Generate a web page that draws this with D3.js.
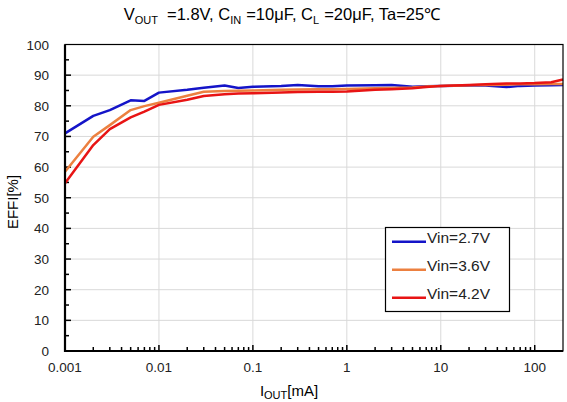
<!DOCTYPE html>
<html>
<head>
<meta charset="utf-8">
<script src="https://cdn.jsdelivr.net/npm/d3@7"></script>
<style>
  body { margin: 0; background: #fff; }
  text { font-family: "Liberation Sans", Arial, sans-serif; }
</style>
</head>
<body>
<div id="chart"></div>
<script>
// measured currents (mA) shared by all curves
var iout = [0.001, 0.002, 0.003, 0.005, 0.007, 0.01, 0.02, 0.03, 0.05, 0.07, 0.1, 0.2, 0.3, 0.5, 0.7,
  1, 2, 3, 5, 7, 10, 20, 30, 50, 70, 100, 150, 200];
var eff27 = [71.0, 76.7, 78.6, 81.8, 81.6, 84.3, 85.2, 85.9, 86.6, 85.8, 86.2, 86.5, 86.8, 86.4, 86.4,
  86.6, 86.7, 86.8, 86.2, 86.4, 86.5, 86.6, 86.6, 86.1, 86.5, 86.6, 86.7, 86.8];
var eff36 = [58.5, 69.9, 73.7, 78.6, 79.9, 81.0, 83.3, 84.6, 84.8, 84.9, 85.0, 85.2, 85.3, 85.4, 85.4,
  85.5, 85.7, 85.8, 86.0, 86.3, 86.5, 86.7, 86.8, 86.9, 87.0, 87.0, 87.1, 87.1];
var eff42 = [54.7, 67.2, 72.4, 76.2, 78.1, 80.3, 82.0, 83.2, 83.8, 84.0, 84.1, 84.3, 84.5, 84.6, 84.6,
  84.7, 85.2, 85.4, 85.7, 86.1, 86.5, 86.8, 87.0, 87.3, 87.3, 87.4, 87.7, 88.6];
var seriesNames = ["Vin=2.7V", "Vin=3.6V", "Vin=4.2V"];
var seriesColors = ["#1414c8", "#ec8040", "#e81414"];
var xTicks = [0.001, 0.01, 0.1, 1, 10, 100];
var xTickLabels = ["0.001", "0.01", "0.1", "1", "10", "100"];
var yTicks = [0, 10, 20, 30, 40, 50, 60, 70, 80, 90, 100];

var W = 567, H = 402;
var L = 65, R = 563, T = 44.5, B = 351;

var svg = d3.select("#chart").append("svg").attr("width", W).attr("height", H);

var x = d3.scaleLog().domain([0.001, 200]).range([L, R]);
var y = d3.scaleLinear().domain([0, 100]).range([B, T]);

// grid
svg.append("g").selectAll("line").data(yTicks.slice(1, -1)).join("line")
  .attr("x1", L).attr("x2", R).attr("y1", d => y(d)).attr("y2", d => y(d))
  .attr("stroke", "#d9d9d9").attr("stroke-width", 1);
svg.append("g").selectAll("line").data(xTicks.slice(1)).join("line")
  .attr("x1", d => x(d)).attr("x2", d => x(d)).attr("y1", T).attr("y2", B)
  .attr("stroke", "#d9d9d9").attr("stroke-width", 1);

// minor ticks
var minorX = [];
for (var p = -3; p <= 2; p++) {
  for (var m = 2; m <= 9; m++) {
    var v = m * Math.pow(10, p);
    if (v < 200) minorX.push(v);
  }
}
svg.append("g").selectAll("line").data(minorX).join("line")
  .attr("x1", d => x(d)).attr("x2", d => x(d)).attr("y1", B).attr("y2", B - 4)
  .attr("stroke", "#000").attr("stroke-width", 1.5);
svg.append("g").selectAll("line").data(xTicks.slice(1)).join("line")
  .attr("x1", d => x(d)).attr("x2", d => x(d)).attr("y1", B).attr("y2", B - 6)
  .attr("stroke", "#000").attr("stroke-width", 1.5);
svg.append("g").selectAll("line").data(d3.range(5, 100, 5)).join("line")
  .attr("x1", L).attr("x2", d => L + (d % 10 === 0 ? 6 : 4)).attr("y1", d => y(d)).attr("y2", d => y(d))
  .attr("stroke", "#000").attr("stroke-width", 1.5);

// curves
var line = d3.line().x((d, i) => x(iout[i])).y(d => y(d));
[eff27, eff36, eff42].forEach(function (s, k) {
  svg.append("path").datum(s).attr("d", line)
    .attr("fill", "none").attr("stroke", seriesColors[k]).attr("stroke-width", 2.5)
    .attr("stroke-linejoin", "round");
});

// frame
svg.append("rect").attr("x", L).attr("y", T).attr("width", R - L).attr("height", B - T)
  .attr("fill", "none").attr("stroke", "#000").attr("stroke-width", 1.2);
svg.append("path").attr("d", `M${L},${T}V${B}H${R}`)
  .attr("fill", "none").attr("stroke", "#000").attr("stroke-width", 2.2);

// tick labels
svg.append("g").selectAll("text").data(yTicks).join("text")
  .attr("x", 49).attr("y", d => y(d) + 5).attr("text-anchor", "end")
  .attr("font-size", 13.5).attr("fill", "#222").text(d => d);
svg.append("g").selectAll("text").data(xTicks).join("text")
  .attr("x", d => x(d)).attr("y", 372).attr("text-anchor", "middle")
  .attr("font-size", 13.5).attr("fill", "#222").text((d, i) => xTickLabels[i]);

// axis titles
svg.append("text").attr("transform", "translate(18,202) rotate(-90)")
  .attr("text-anchor", "middle").attr("font-size", 15).text("EFFI[%]");
var xt = svg.append("text").attr("x", 289).attr("y", 396).attr("text-anchor", "middle").attr("font-size", 15);
xt.append("tspan").text("I");
xt.append("tspan").attr("font-size", 11).attr("dy", 3).text("OUT");
xt.append("tspan").attr("dy", -3).text("[mA]");

// title
var tt = svg.append("text").attr("x", 282).attr("y", 20).attr("text-anchor", "middle").attr("font-size", 16.5);
tt.append("tspan").text("V");
tt.append("tspan").attr("font-size", 11).attr("dy", 4).text("OUT");
tt.append("tspan").attr("dy", -4).attr("dx", 9).text("=1.8V, C");
tt.append("tspan").attr("font-size", 11).attr("dy", 4).text("IN");
tt.append("tspan").attr("dy", -4).attr("dx", 5).text("=10μF, C");
tt.append("tspan").attr("font-size", 11).attr("dy", 4).text("L");
tt.append("tspan").attr("dy", -4).attr("dx", 5).text("=20μF, Ta=25℃");

// legend
var lg = svg.append("g");
lg.append("rect").attr("x", 385.5).attr("y", 227.5).attr("width", 124).attr("height", 84)
  .attr("fill", "#fff").attr("stroke", "#000").attr("stroke-width", 1.2);
seriesNames.forEach(function (n, k) {
  var yy = 241.7 + k * 28;
  lg.append("line").attr("x1", 392).attr("x2", 426).attr("y1", yy).attr("y2", yy)
    .attr("stroke", seriesColors[k]).attr("stroke-width", 2.5);
  lg.append("text").attr("x", 427).attr("y", yy + 1).attr("font-size", 15.5).attr("fill", "#222").text(n);
});
</script>
</body>
</html>
